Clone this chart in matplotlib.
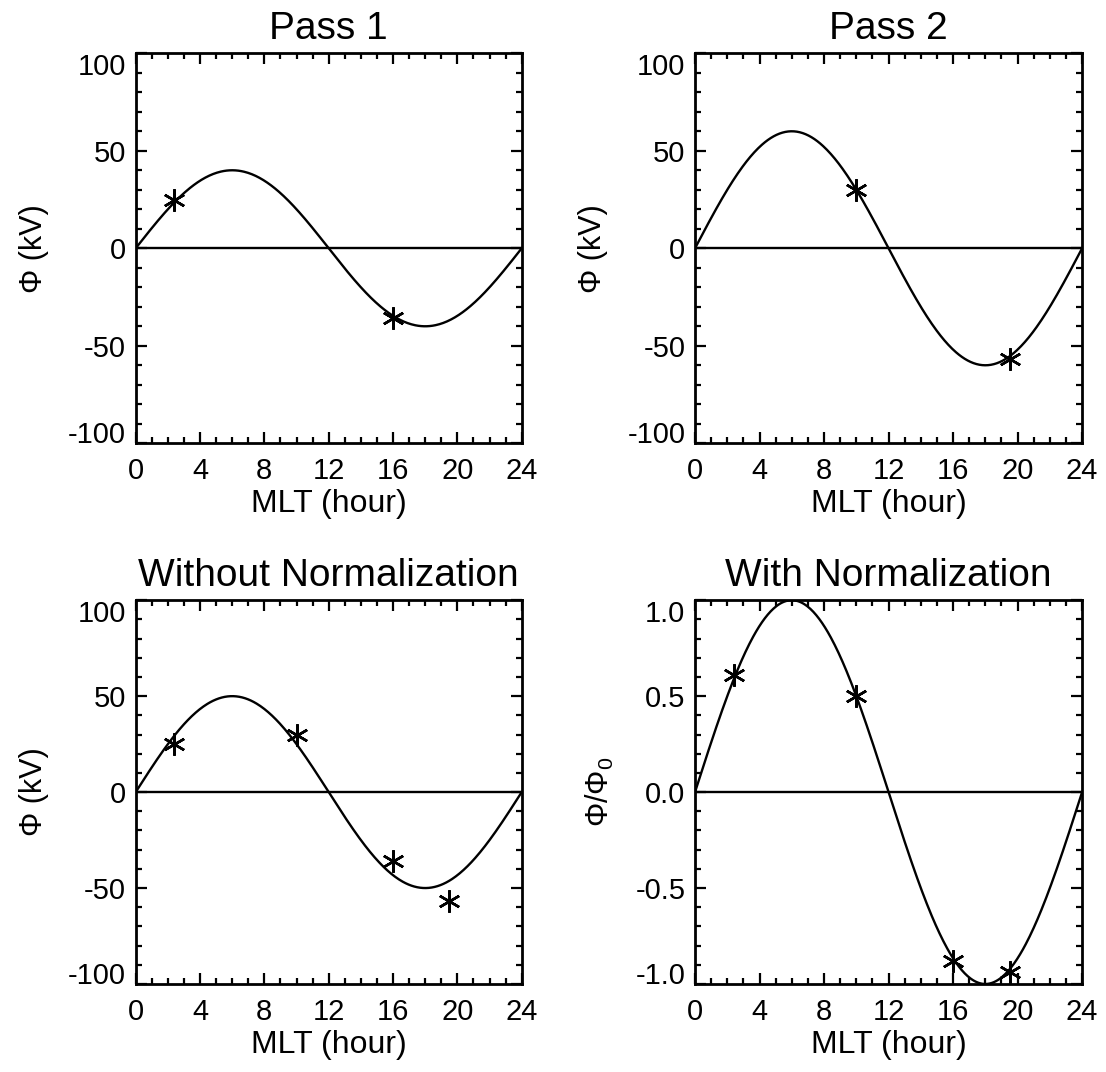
import numpy as np
import matplotlib
matplotlib.use('Agg')
import matplotlib.pyplot as plt
from matplotlib.ticker import MultipleLocator

plt.rcParams['font.family'] = ['Liberation Sans', 'DejaVu Sans']
plt.rcParams['mathtext.fontset'] = 'custom'
plt.rcParams['mathtext.rm'] = 'Liberation Sans'

# measured points (MLT hour, potential kV)
pass1_mlt = [2.4, 16.0]
pass1_phi = [25, -36]
pass2_mlt = [10.0, 19.5]
pass2_phi = [30, -57]
# normalized values
norm_mlt = [2.4, 10.0, 16.0, 19.5]
norm_phi = [0.61, 0.50, -0.88, -0.94]

# sine fit amplitudes for each panel
amp_pass1 = 40
amp_pass2 = 60
amp_all = 50
amp_norm = 1.0

titles = ['Pass 1', 'Pass 2', 'Without Normalization', 'With Normalization']
ylabels = ['\u03a6 (kV)', '\u03a6 (kV)', '\u03a6 (kV)', '\u03a6/\u03a6$_0$']

fig = plt.figure(figsize=(11.06, 10.72), dpi=100)
rects = [
    [0.1227, 0.5865, 0.349, 0.3638],
    [0.6284, 0.5865, 0.350, 0.3638],
    [0.1227, 0.0821, 0.349, 0.358],
    [0.6284, 0.0821, 0.350, 0.358],
]
t = np.linspace(0, 24, 400)
star = (6, 2, 0)

panels = [
    (amp_pass1, pass1_mlt, pass1_phi, (-100, 100), [-100, -50, 0, 50, 100], 10),
    (amp_pass2, pass2_mlt, pass2_phi, (-100, 100), [-100, -50, 0, 50, 100], 10),
    (amp_all, pass1_mlt + pass2_mlt, pass1_phi + pass2_phi, (-100, 100), [-100, -50, 0, 50, 100], 10),
    (amp_norm, norm_mlt, norm_phi, (-1, 1), [-1.0, -0.5, 0.0, 0.5, 1.0], 0.1),
]

for i, (amp, xs, ys, ylim, yticks, yminor) in enumerate(panels):
    ax = fig.add_axes(rects[i])
    ax.plot(t, amp * np.sin(2 * np.pi * t / 24), color='black', lw=1.7)
    ax.plot([0, 24], [0, 0], color='black', lw=1.7)
    ax.plot(xs, ys, linestyle='none', marker=star, markersize=16,
            markeredgewidth=1.8, color='black')
    ax.set_xlim(0, 24)
    ax.set_ylim(*ylim)
    ax.set_xticks([0, 4, 8, 12, 16, 20, 24])
    ax.xaxis.set_minor_locator(MultipleLocator(1))
    ax.set_yticks(yticks)
    ax.yaxis.set_minor_locator(MultipleLocator(yminor))
    if i == 3:
        ax.set_yticklabels(['%.1f' % v for v in yticks])
    else:
        ax.set_yticklabels(['%d' % v for v in yticks])
    ax.tick_params(which='both', direction='in', top=True, right=True,
                   width=1.6, labelsize=21, color='black')
    ax.tick_params(which='major', length=8)
    ax.tick_params(which='minor', length=4)
    ax.tick_params(axis='x', which='major', pad=10)
    ax.tick_params(axis='y', which='major', pad=7)
    for s in ax.spines.values():
        s.set_linewidth(2.0)
    labs = ax.get_yticklabels()
    labs[-1].set_va('top')
    labs[0].set_va('baseline')
    ax.set_title(titles[i], fontsize=28, pad=10)
    ax.set_xlabel('MLT (hour)', fontsize=23, labelpad=3)
    ax.set_ylabel(ylabels[i], fontsize=22, labelpad=14)

fig.savefig('out.png', dpi=100)
